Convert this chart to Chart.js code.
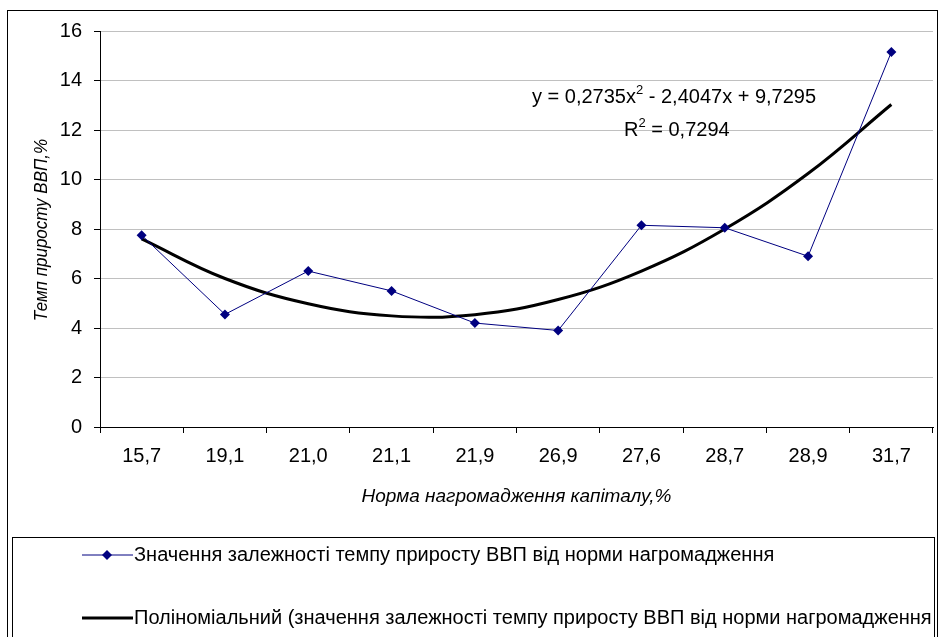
<!DOCTYPE html>
<html>
<head>
<meta charset="utf-8">
<script src="https://cdn.jsdelivr.net/npm/chart.js@4/dist/chart.umd.min.js"></script>
<style>
  html, body { margin: 0; padding: 0; background: #fff; }
  #c { display: block; }
</style>
</head>
<body>
<canvas id="c" width="938" height="637"></canvas>
<script>
// categories: capital accumulation rate, %
const categories = ['15,7', '19,1', '21,0', '21,1', '21,9', '26,9', '27,6', '28,7', '28,9', '31,7'];
// GDP growth rate, %
const gdpGrowth = [7.75, 4.55, 6.3, 5.5, 4.2, 3.9, 8.15, 8.05, 6.9, 15.15];
// polynomial trend as drawn in the picture
const trendValues = [7.6, 6.0, 4.98, 4.49, 4.54, 5.15, 6.3, 8.0, 10.24, 13.03];
const yTicks = [0, 2, 4, 6, 8, 10, 12, 14, 16];

const seriesLabel = 'Значення залежності темпу приросту ВВП від норми нагромадження';
const trendLabel = 'Поліноміальний (значення залежності темпу приросту ВВП від норми нагромадження';
const yTitle = 'Темп приросту ВВП,%';
const xTitle = 'Норма нагромадження капіталу,%';

const FONT = '"Liberation Sans", Arial, sans-serif';

const decor = {
  id: 'decor',
  beforeDraw(chart) {
    const ctx = chart.ctx;
    ctx.save();
    ctx.fillStyle = '#fff';
    ctx.fillRect(0, 0, chart.width, chart.height);
    ctx.restore();
  },
  afterDraw(chart) {
    const ctx = chart.ctx;
    const area = chart.chartArea;
    ctx.save();
    // outer frame
    ctx.strokeStyle = '#000';
    ctx.lineWidth = 1;
    ctx.strokeRect(7.5, 10.5, 930, 640);

    // axis titles
    ctx.fillStyle = '#000';
    ctx.font = 'italic 19px ' + FONT;
    ctx.textAlign = 'center';
    ctx.textBaseline = 'middle';
    ctx.fillText(xTitle, (area.left + area.right) / 2, 497);
    ctx.save();
    ctx.translate(42, (area.top + area.bottom) / 2 + 1);
    ctx.rotate(-Math.PI / 2);
    ctx.scale(1, 1.12);
    ctx.font = 'italic 17px ' + FONT;
    ctx.fillText(yTitle, 0, 0);
    ctx.restore();

    // trend equation
    ctx.font = '20px ' + FONT;
    ctx.textAlign = 'left';
    ctx.textBaseline = 'alphabetic';
    let x = 532, y = 103;
    const parts1 = ['y = 0,2735x', '2', ' - 2,4047x + 9,7295'];
    ctx.fillText(parts1[0], x, y); x += ctx.measureText(parts1[0]).width;
    ctx.font = '13px ' + FONT;
    ctx.fillText(parts1[1], x, y - 9); x += ctx.measureText(parts1[1]).width;
    ctx.font = '20px ' + FONT;
    ctx.fillText(parts1[2], x, y);
    x = 624; y = 136;
    ctx.fillText('R', x, y); x += ctx.measureText('R').width;
    ctx.font = '13px ' + FONT;
    ctx.fillText('2', x, y - 9); x += ctx.measureText('2').width;
    ctx.font = '20px ' + FONT;
    ctx.fillText(' = 0,7294', x, y);

    // legend box
    ctx.strokeStyle = '#000';
    ctx.lineWidth = 1;
    ctx.strokeRect(12.5, 537.5, 922, 120);
    const ds = chart.data.datasets;
    const rows = [555, 618];
    ds.forEach((d, i) => {
      const ly = rows[i];
      ctx.strokeStyle = d.borderColor;
      ctx.lineWidth = d.borderWidth;
      ctx.beginPath();
      ctx.moveTo(82, ly);
      ctx.lineTo(133, ly);
      ctx.stroke();
      if (d.pointRadius > 0) {
        ctx.fillStyle = d.pointBackgroundColor;
        ctx.beginPath();
        ctx.moveTo(107, ly - 5);
        ctx.lineTo(112, ly);
        ctx.lineTo(107, ly + 5);
        ctx.lineTo(102, ly);
        ctx.closePath();
        ctx.fill();
      }
      ctx.fillStyle = '#000';
      ctx.font = '20px ' + FONT;
      ctx.textBaseline = 'middle';
      ctx.fillText(d.label, 134, ly);
    });
    ctx.restore();
  }
};

new Chart(document.getElementById('c'), {
  type: 'line',
  data: {
    labels: categories,
    datasets: [
      {
        label: seriesLabel,
        data: gdpGrowth,
        borderColor: '#000080',
        backgroundColor: '#000080',
        pointBackgroundColor: '#000080',
        pointBorderColor: '#000080',
        borderWidth: 1,
        pointStyle: 'rectRot',
        pointRadius: 5,
        pointBorderWidth: 0,
        tension: 0,
        fill: false
      },
      {
        label: trendLabel,
        data: trendValues,
        borderColor: '#000',
        borderWidth: 3,
        pointRadius: 0,
        tension: 0.4,
        fill: false
      }
    ]
  },
  options: {
    responsive: false,
    animation: false,
    devicePixelRatio: 1,
    layout: { padding: { left: 0, right: 3, top: 31, bottom: 0 } },
    plugins: {
      legend: { display: false },
      tooltip: { enabled: false }
    },
    scales: {
      x: {
        offset: true,
        grid: {
          offset: true,
          drawOnChartArea: false,
          drawTicks: true,
          tickLength: 6,
          tickColor: '#000'
        },
        border: { color: '#000', width: 1 },
        ticks: {
          color: '#000',
          font: { family: FONT, size: 20 },
          padding: 11,
          maxRotation: 0,
          autoSkip: false
        },
        afterFit(scale) { scale.height = 210; }
      },
      y: {
        min: 0,
        max: 16,
        afterBuildTicks(scale) { scale.ticks = yTicks.map(v => ({ value: v })); },
        grid: {
          color: '#c0c0c0',
          lineWidth: 1,
          drawTicks: true,
          tickLength: 6,
          tickColor: '#000'
        },
        border: { color: '#000', width: 1 },
        ticks: {
          color: '#000',
          font: { family: FONT, size: 20 },
          padding: 12
        },
        afterFit(scale) { scale.width = 100; }
      }
    }
  },
  plugins: [decor]
});
</script>
</body>
</html>
